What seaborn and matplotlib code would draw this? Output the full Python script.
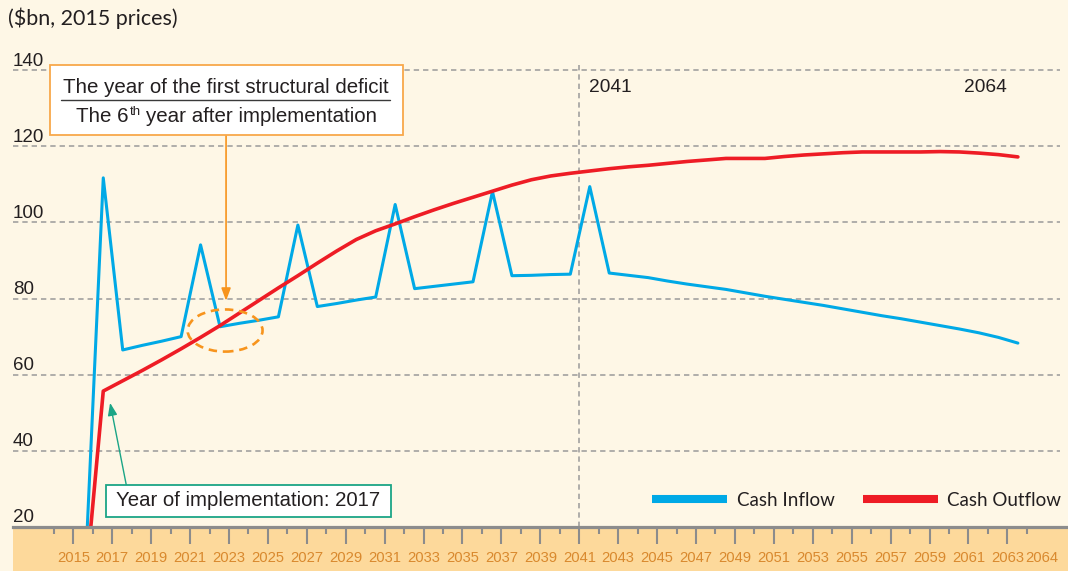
import numpy as np
import pandas as pd
import matplotlib
matplotlib.use("Agg")
import matplotlib.pyplot as plt
from matplotlib import font_manager
import seaborn as sns
from matplotlib.patches import Rectangle, Ellipse
from matplotlib.lines import Line2D

# ---------------- data ----------------
years = list(range(2016, 2065))
cash_inflow = [0, 111.7, 66.5, 67.7, 68.8, 70.0, 94.1, 72.6, 73.5, 74.3,
               75.2, 99.3, 77.9, 78.7, 79.6, 80.4, 104.7, 82.6, 83.2, 83.8,
               84.4, 108.1, 86.0, 86.1, 86.3, 86.4, 109.4, 86.7, 86.1, 85.5,
               84.6, 83.8, 83.1, 82.4, 81.5, 80.6, 79.8, 79.0, 78.2, 77.3,
               76.4, 75.5, 74.7, 73.8, 72.9, 72.0, 71.0, 69.8, 68.3]
cash_outflow = [0, 55.7, 58.4, 61.1, 63.9, 66.8, 69.8, 72.9, 76.2, 79.5,
                82.8, 86.0, 89.3, 92.5, 95.5, 97.8, 99.6, 101.5, 103.3, 105.0,
                106.6, 108.2, 109.8, 111.2, 112.2, 112.9, 113.5, 114.1, 114.6, 115.0,
                115.5, 116.0, 116.4, 116.8, 116.8, 116.8, 117.3, 117.7, 118.0, 118.3,
                118.5, 118.5, 118.5, 118.5, 118.6, 118.5, 118.2, 117.8, 117.2]
series_names = ["Cash Inflow", "Cash Outflow"]
y_ticks = [20, 40, 60, 80, 100, 120, 140]
x_major = list(range(2015, 2064, 2))
x_minor = list(range(2014, 2065, 2))
marker_years = ["2041", "2064"]

# ---------------- style ----------------
sns.set_style("white")
plt.rcParams["font.family"] = ["Liberation Sans", "DejaVu Sans"]
plt.rcParams["xtick.bottom"] = True

installed = {f.name for f in font_manager.fontManager.ttflist}
if "Liberation Sans Narrow" in installed:
    NARROW = ["Liberation Sans Narrow", "DejaVu Sans"]
    XSIZE = 11.8
else:
    NARROW = ["Liberation Sans", "DejaVu Sans"]
    XSIZE = 10.6

CREAM = "#FEF7E6"
BAND = "#FDD99B"
BLUE = "#00A9E6"
RED = "#EE1C25"
GRID = "#9A9A9A"
TICKC = "#8C8C8C"
LABELC = "#D9892E"
TEXTC = "#231F20"
ORANGE = "#F7941D"
TEAL = "#1BA586"

W, H = 1068, 571
fig = plt.figure(figsize=(W / 100, H / 100), dpi=100, facecolor=CREAM)

# band under the axis (drawn behind the axes)
fig.patches.append(Rectangle((13 / W, 0), 1 - 13 / W, (H - 527) / H,
                             transform=fig.transFigure, facecolor=BAND,
                             edgecolor="none", zorder=-5))

# axes placement in pixels
ax_l, ax_r, ax_b, ax_t = 13, 1068, 527, 40
ax = fig.add_axes([ax_l / W, 1 - ax_b / H, (ax_r - ax_l) / W, (ax_b - ax_t) / H])
ax.set_facecolor("none")

px_per_year = 19.46
x0_px = 73.3  # pixel of 2015 tick
ax.set_xlim(2015 - (x0_px - ax_l) / px_per_year, 2015 + (ax_r - x0_px) / px_per_year)
px_per_unit = 3.795
ax.set_ylim(20, 140 + (70 - ax_t) / px_per_unit)

# data frame (points sit mid-way between ticks)
df = pd.DataFrame({
    "x": np.array(years) - 0.46,
    "inflow": cash_inflow,
    "outflow": cash_outflow,
})

# grid lines
grid_right = (1060 - ax_l) / (ax_r - ax_l)
for v in y_ticks[1:]:
    ax.axhline(v, xmin=0, xmax=grid_right, color=GRID, lw=1.1,
               ls=(0, (3.5, 2.6)), zorder=1)
ax.axvline(2041, ymin=0, ymax=(142 - 20) / (ax.get_ylim()[1] - 20),
           color=GRID, lw=1.1, ls=(0, (3.5, 2.6)), zorder=1)

# lines
sns.lineplot(data=df, x="x", y="inflow", ax=ax, color=BLUE, lw=2.2,
             zorder=3, legend=False)
sns.lineplot(data=df, x="x", y="outflow", ax=ax, color=RED, lw=2.6,
             zorder=4, legend=False)

# axes cosmetics
for s in ["left", "right", "top"]:
    ax.spines[s].set_visible(False)
ax.spines["bottom"].set_color(TICKC)
ax.spines["bottom"].set_linewidth(2.3)
ax.spines["bottom"].set_zorder(5)
ax.set_xlabel("")
ax.set_ylabel("")
ax.set_yticks([])
ax.set_xticks(x_major)
ax.set_xticklabels([str(y) for y in x_major])
ax.set_xticks(x_minor, minor=True)
ax.tick_params(axis="x", which="major", bottom=True, direction="out", length=12.5,
               width=1.5, color=TICKC, pad=4.5, labelsize=XSIZE, labelcolor=LABELC)
ax.tick_params(axis="x", which="minor", bottom=True, direction="out", length=5,
               width=1.5, color=TICKC)
for lbl in ax.get_xticklabels():
    lbl.set_family(NARROW)
# extra end label 2064
ax.text(2064.76, -(558 - ax_b) / (ax_b - ax_t), "2064", transform=ax.get_xaxis_transform(),
        ha="center", va="center", fontsize=XSIZE, color=LABELC, family=NARROW)

# y labels sitting above grid lines
for v in y_ticks:
    ax.text(0.0, v + 1.2, str(v), transform=ax.get_yaxis_transform(),
            ha="left", va="baseline", fontsize=13.5, color=TEXTC)

# unit title
fig.text(8 / W, 1 - 18 / H, r"(\$bn, 2015 prices)", ha="left", va="center",
         fontsize=15.5, color=TEXTC, family=["Lato", "DejaVu Sans"])

# year markers
ax.text(2041.5, 135.5, marker_years[0], ha="left", va="center", fontsize=13.8, color=TEXTC)
ax.text(2061.88, 135.5, marker_years[1], ha="center", va="center", fontsize=13.8, color=TEXTC)

# legend
handles = [Line2D([0], [0], color=BLUE, lw=5.8, solid_capstyle="butt"),
           Line2D([0], [0], color=RED, lw=5.8, solid_capstyle="butt")]
leg = fig.legend(handles, series_names, loc="center right",
                 bbox_to_anchor=(1061 / W, 1 - 500 / H), ncol=2, frameon=False,
                 prop={"family": ["Lato", "DejaVu Sans"], "size": 13.5},
                 handlelength=4.0, handletextpad=0.5, columnspacing=1.5,
                 borderpad=0, borderaxespad=0, labelcolor=TEXTC)

# ---- annotation 1: first structural deficit ----
fig.patches.append(Rectangle((50 / W, 1 - 134.5 / H), (403 - 50) / W, (134.5 - 65) / H,
                             transform=fig.transFigure, facecolor="white",
                             edgecolor="#F8A84A", lw=1.3, zorder=6))
fig.text(226 / W, 1 - 88 / H, "The year of the first structural deficit",
         ha="center", va="center", fontsize=14.8, color=TEXTC, zorder=7)
fig.lines.append(Line2D([61 / W, 390 / W], [1 - 99.5 / H, 1 - 99.5 / H],
                        transform=fig.transFigure, color="#3A3A3A", lw=1.0, zorder=7))
# second line built from pieces so the superscript stays small
fig.text(128.5 / W, 1 - 117 / H, "The 6", ha="right", va="center",
         fontsize=14.8, color=TEXTC, zorder=7)
fig.text(129.5 / W, 1 - 112 / H, "th", ha="left", va="center",
         fontsize=9.5, color=TEXTC, zorder=7)
fig.text(146.5 / W, 1 - 117 / H, "year after implementation", ha="left", va="center",
         fontsize=14.8, color=TEXTC, zorder=7)
ax.annotate("", xy=(2022.85, 79.4), xytext=(2022.85, 123.0),
            arrowprops=dict(arrowstyle="-|>,head_length=0.75,head_width=0.28",
                            color=ORANGE, lw=1.2, shrinkA=0, shrinkB=0),
            zorder=6)
ax.add_patch(Ellipse((2022.8, 71.6), 3.85, 11.07, fill=False, edgecolor=ORANGE,
                     lw=1.9, ls=(0, (3.2, 2.2)), zorder=6))

# ---- annotation 2: year of implementation ----
fig.patches.append(Rectangle((106 / W, 1 - 516.5 / H), (391 - 106) / W, (516.5 - 484.5) / H,
                             transform=fig.transFigure, facecolor="white",
                             edgecolor=TEAL, lw=1.3, zorder=6))
fig.text(248.5 / W, 1 - 500.5 / H, "Year of implementation: 2017",
         ha="center", va="center", fontsize=14.7, color=TEXTC, zorder=7)
ax.annotate("", xy=(2016.89, 52.6), xytext=(2017.74, 30.6),
            arrowprops=dict(arrowstyle="-|>,head_length=0.75,head_width=0.28",
                            color=TEAL, lw=1.0, shrinkA=0, shrinkB=0),
            zorder=6)

fig.savefig("out.png", dpi=100, facecolor=CREAM)
